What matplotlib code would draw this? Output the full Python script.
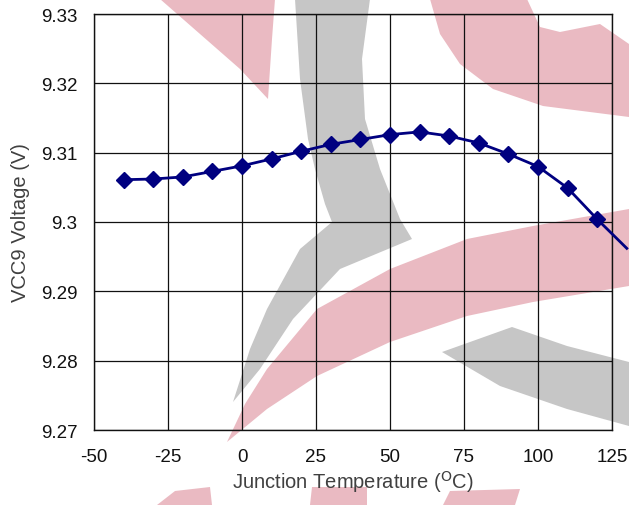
import matplotlib
matplotlib.use("Agg")
import matplotlib.pyplot as plt
from matplotlib.patches import Polygon

plt.rcParams['font.family'] = ['Liberation Sans', 'DejaVu Sans']
plt.rcParams['axes.unicode_minus'] = False

# junction temperature (degC) and VCC9 voltage (V)
temps = [-40, -30, -20, -10, 0, 10, 20, 30, 40, 50, 60, 70, 80, 90, 100, 110, 120, 130]
vcc9 = [9.3061, 9.3062, 9.3065, 9.3073, 9.3081, 9.3091, 9.3102, 9.3112, 9.3119,
        9.3126, 9.3130, 9.3124, 9.3114, 9.3098, 9.3080, 9.3049, 9.3004, 9.2962]
xticks = [-50, -25, 0, 25, 50, 75, 100, 125]
yticks = [9.27, 9.28, 9.29, 9.30, 9.31, 9.32, 9.33]
yticklabels = ['9.27', '9.28', '9.29', '9.3', '9.31', '9.32', '9.33']

W, H = 629, 506
fig = plt.figure(figsize=(W / 100, H / 100), dpi=100)

# faint logo watermark behind the plot (pixel outlines, top-left origin)
PINK = '#eabac2'
GREY = '#c6c6c6'
shapes = [
    (PINK, [(160, 0), (275, 0), (272, 40), (268, 100), (240, 70), (200, 35)]),
    (GREY, [(295, 0), (370, 0), (362, 60), (365, 120), (380, 170), (400, 220),
            (412, 240), (340, 270), (293, 320), (260, 370), (233, 403),
            (250, 350), (267, 310), (300, 250), (332, 223), (325, 205),
            (315, 170), (308, 140), (300, 80)]),
    (PINK, [(227, 443), (245, 405), (267, 370), (317, 310), (390, 270),
            (467, 240), (533, 227), (629, 210), (629, 287), (533, 303),
            (467, 317), (390, 343), (317, 377), (267, 410)]),
    (GREY, [(442, 353), (512, 328), (567, 347), (629, 363), (629, 427),
            (567, 410), (500, 387)]),
    (PINK, [(430, 0), (527, 0), (540, 28), (560, 33), (600, 25), (629, 45),
            (629, 118), (543, 107), (493, 90), (460, 65), (440, 35)]),
    (PINK, [(157, 506), (175, 492), (210, 488), (212, 506)]),
    (PINK, [(310, 506), (312, 488), (367, 488), (367, 506)]),
    (PINK, [(443, 506), (450, 492), (520, 490), (515, 506)]),
]
for color, pts in shapes:
    xy = [(x / W, 1 - y / H) for x, y in pts]
    fig.patches.append(Polygon(xy, closed=True, facecolor=color, edgecolor='none',
                               transform=fig.transFigure, zorder=-1))

ax = fig.add_axes([94 / W, 1 - 431 / H, (612 - 94) / W, (431 - 15) / H])
ax.set_facecolor('none')

ax.plot(temps, vcc9, color='#000080', lw=2.0, marker='D', ms=8.5,
        markevery=list(range(len(temps) - 1)), clip_on=False, zorder=3)

ax.set_xlim(-50, 125)
ax.set_ylim(9.27, 9.33)
ax.set_xticks(xticks)
ax.set_yticks(yticks)
ax.set_yticklabels(yticklabels)
ax.grid(True, color='#111111', lw=0.9)
ax.set_axisbelow(True)
for s in ax.spines.values():
    s.set_color('#111111')
    s.set_linewidth(1.0)
ax.tick_params(length=0, labelsize=13.5, colors='#111111')
ax.tick_params(axis='y', pad=12)
ax.tick_params(axis='x', pad=13)

ax.set_xlabel(r'Junction Temperature ($^{\mathrm{O}}$C)', fontsize=14.5,
              color='#404040', labelpad=2)
ax.set_ylabel('VCC9 Voltage (V)', fontsize=14.5, color='#404040', labelpad=8)

fig.savefig('out.png', dpi=100)
